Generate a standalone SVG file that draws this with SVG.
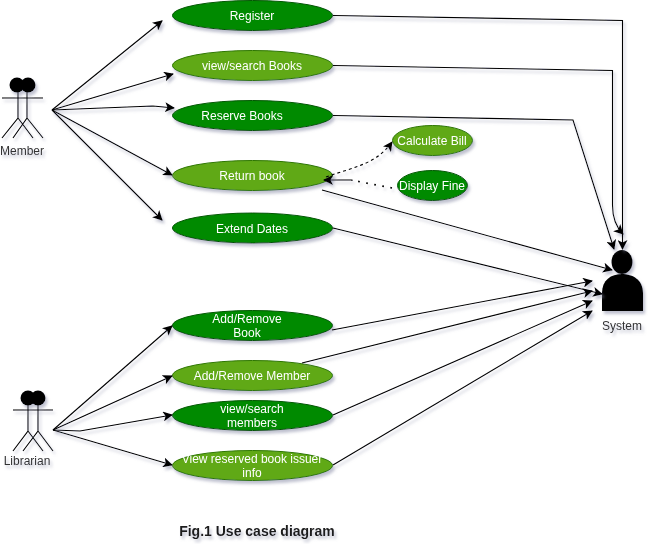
<svg xmlns="http://www.w3.org/2000/svg" width="654" height="552" viewBox="0 0 654 552">
<defs>
<filter id="sh" x="-20%" y="-20%" width="140%" height="150%"><feDropShadow dx="2" dy="3" stdDeviation="1.5" flood-color="#8a8fa8" flood-opacity="0.55"/></filter>
<marker id="a" viewBox="0 0 10 10" refX="9" refY="5" markerWidth="10" markerHeight="10" markerUnits="userSpaceOnUse" orient="auto"><path d="M0 0L10 5L0 10L2.5 5Z" fill="#000"/></marker>
</defs>
<style>
.e1{fill:#008a00;stroke:#005700}
.e2{fill:#60a917;stroke:#2d7600}
.t{font:12px "Liberation Sans",Arial,sans-serif;fill:#fff;text-anchor:middle}
.l{font:12px "Liberation Sans",Arial,sans-serif;fill:#333;text-anchor:middle}
.c{fill:none;stroke:#000;stroke-width:1.1;marker-end:url(#a)}
.s{fill:none;stroke:#000;stroke-width:1.1}
.dash{stroke-dasharray:3 3}
.dot{fill:none;stroke:#000;stroke-width:1.7;stroke-dasharray:1.7 6.5}
</style>
<g id="member" filter="url(#sh)">
<circle cx="17" cy="85" r="7.500"/><circle cx="28" cy="85" r="7.500"/>
<path class="s" d="M2 98H43M18 92V118L2 138M18 118L33 138M27 92V118L13 138M27 118L43 138"/>
<text class="l" x="22" y="155">Member</text>
</g>
<g id="librarian" filter="url(#sh)">
<circle cx="28" cy="398" r="7.500"/><circle cx="38" cy="398" r="7.500"/>
<path class="s" d="M13 410H53M28 405V431L13 451M28 431L43 451M38 405V431L23 451M38 431L53 451"/>
<text class="l" x="27" y="465">Librarian</text>
</g>
<g id="system" filter="url(#sh)">
<ellipse cx="622" cy="262" rx="10.500" ry="12"/>
<path d="M602 311V293C602 280 611 274 622 274C633 274 643 280 643 293V311Z"/>
<text class="l" x="622" y="330">System</text>
</g>
<g id="n1" filter="url(#sh)"><ellipse class="e1" cx="252.500" cy="15.500" rx="80" ry="15"/><text class="t" x="252" y="20">Register</text></g>
<g id="n2" filter="url(#sh)"><ellipse class="e2" cx="252.500" cy="65.500" rx="80" ry="15"/><text class="t" x="252" y="70">view/search Books</text></g>
<g id="n3" filter="url(#sh)"><ellipse class="e1" cx="252.500" cy="115.500" rx="80" ry="15"/><text class="t" x="242" y="120">Reserve Books</text></g>
<g id="n4" filter="url(#sh)"><ellipse class="e2" cx="252.500" cy="175.500" rx="80" ry="15"/><text class="t" x="252" y="180">Return book</text></g>
<g id="n5" filter="url(#sh)"><ellipse class="e1" cx="252.500" cy="228" rx="80" ry="15"/><text class="t" x="252" y="233">Extend Dates</text></g>
<g id="n6" filter="url(#sh)"><ellipse class="e2" cx="432.500" cy="140.500" rx="40" ry="15"/><text class="t" x="432" y="145">Calculate Bill</text></g>
<g id="n7" filter="url(#sh)"><ellipse class="e1" cx="432.500" cy="185.500" rx="35" ry="15"/><text class="t" x="432" y="190">Display Fine</text></g>
<g id="n8" filter="url(#sh)"><ellipse class="e1" cx="252.500" cy="325.500" rx="80" ry="15"/><text class="t" x="247" y="323">Add/Remove</text><text class="t" x="247" y="337">Book</text></g>
<g id="n9" filter="url(#sh)"><ellipse class="e2" cx="252.500" cy="375.500" rx="80" ry="15"/><text class="t" x="252" y="380">Add/Remove Member</text></g>
<g id="n10" filter="url(#sh)"><ellipse class="e1" cx="252.500" cy="415.500" rx="80" ry="15"/><text class="t" x="252" y="413">view/search</text><text class="t" x="252" y="427">members</text></g>
<g id="n11" filter="url(#sh)"><ellipse class="e2" cx="252.500" cy="465.500" rx="80" ry="15"/><text class="t" x="252" y="463">View reserved book issuer</text><text class="t" x="252" y="477">info</text></g>
<g id="connectors" filter="url(#sh)">
<path class="c" d="M52 110L162 21"/>
<path class="c" d="M52 110L173 74"/>
<path class="c" d="M52 110L153 106L174 108"/>
<path class="c" d="M52 110L172 175"/>
<path class="c" d="M52 110L162 220"/>
<path class="c" d="M53 430L172 326"/>
<path class="c" d="M53 430L172 376"/>
<path class="c" d="M53 430L80 431L172 415"/>
<path class="c" d="M53 430L172 465"/>
<path class="c" d="M333 15.500L622.500 20.500V249"/>
<path class="c" d="M333 65.500L612.500 70.500V205C612.500 220 617 228 623 234"/>
<path class="c" d="M333 115.500L573 120L614 249"/>
<path class="c" d="M322 190L612 270"/>
<path class="c" d="M333 228L602 294"/>
<path class="c" d="M332 330L592 281"/>
<path class="c" d="M302 363L592 291"/>
<path class="c" d="M333 415L592 301"/>
<path class="c" d="M333 465L592 311"/>
<path class="c dash" d="M326 177C350 168 376 165 392 142"/>
<path class="dot" d="M392 188L356 181"/>
<path class="c" d="M352 181L352 180L324 180"/>
</g>
<text x="257" y="536" filter="url(#sh)" style="font:bold 14px 'Liberation Sans',Arial,sans-serif;text-anchor:middle;fill:#1a1a1a">Fig.1 Use case diagram</text>
</svg>
